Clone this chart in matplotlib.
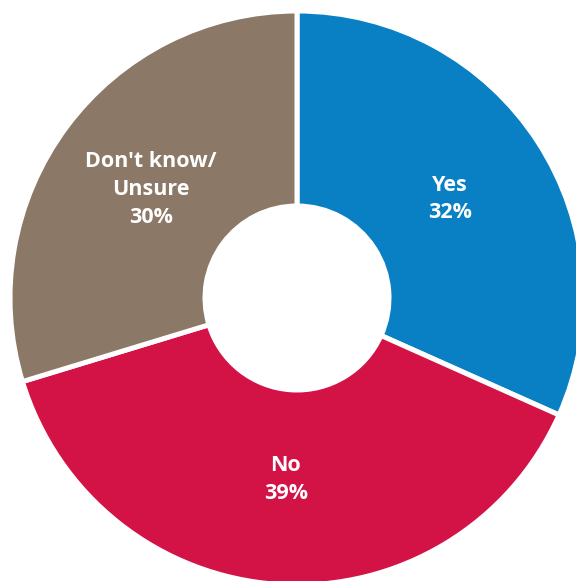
import numpy as np
import matplotlib
matplotlib.use("Agg")
import matplotlib.pyplot as plt

# survey answers
labels = ["Yes", "No", "Don't know/\nUnsure"]
shares = [32, 39, 30]
colors = ["#0A80C4", "#D31245", "#8B7866"]

W, H = 576, 581
fig = plt.figure(figsize=(W / 100, H / 100), dpi=100)
ax = fig.add_axes([0, 0, 1, 1])

cx, cy = 297, H - 298
outer = 287
inner = 92

wedges, _ = ax.pie(
    shares,
    colors=colors,
    startangle=90,
    counterclock=False,
    center=(cx, cy),
    radius=outer,
    wedgeprops=dict(width=outer - inner, edgecolor="white", linewidth=3.6),
)

# labels inside each ring segment
for w, lab, val in zip(wedges, labels, shares):
    mid = np.deg2rad((w.theta1 + w.theta2) / 2)
    r = 182
    x = cx + r * np.cos(mid)
    y = cy + r * np.sin(mid)
    ax.text(x, y, f"{lab}\n{val}%", ha="center", va="center",
            color="white", fontsize=15.5, fontweight="bold",
            family="Open Sans", linespacing=1.42)

ax.set_xlim(0, W)
ax.set_ylim(0, H)
ax.set_aspect("equal")
ax.axis("off")

fig.savefig("out.png", dpi=100)
